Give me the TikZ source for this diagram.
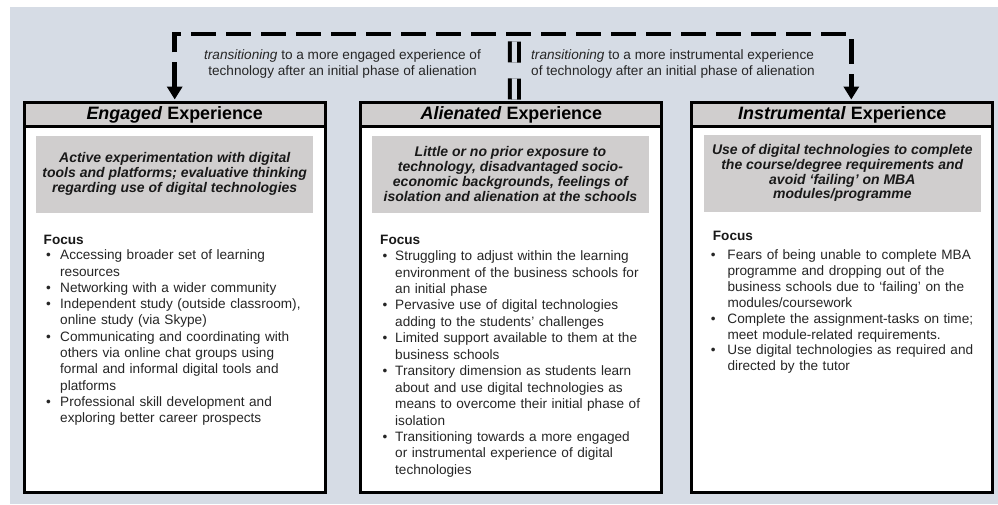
\documentclass[tikz,border=0pt]{standalone}
\usepackage{fontspec}
\setmainfont{Liberation Sans}
\usetikzlibrary{arrows.meta,positioning}

\definecolor{panel}{HTML}{D6DCE5}
\definecolor{shade}{HTML}{D0CECE}

\newlength\bulind
\newcommand\bul[1]{\hangindent=\bulind\hangafter=1\noindent\makebox[\bulind][l]{•}#1\par}

\begin{document}
\begin{tikzpicture}[x=1pt,y=-1pt,
    expbox/.style={draw,line width=3pt,fill=white,minimum width=301pt,minimum height=389.5pt,inner sep=0pt},
    headbox/.style={draw,line width=3pt,fill=shade,minimum width=301pt,minimum height=23.8pt,inner sep=0pt,
        font=\fontsize{17.9}{20}\selectfont\bfseries},
    keybox/.style={fill=shade,minimum width=277pt,minimum height=77pt,inner sep=0pt,align=center,
        text=black!90,font=\fontsize{14}{14.9}\selectfont\bfseries\itshape},
    focuslbl/.style={inner sep=0pt,text=black!90,font=\fontsize{13.6}{16.3}\selectfont\bfseries},
    focuslist/.style={inner sep=0pt,text width=285pt,align=left,text=black!85,font=\fontsize{13.6}{16.3}\selectfont},
    translbl/.style={inner sep=0pt,text=black!85,font=\fontsize{13.6}{16.5}\selectfont},
    trans/.style={line width=4.5pt,dash pattern=on 25pt off 10pt,line join=miter,
        {Triangle[length=13pt,width=15pt]}-{Triangle[length=13pt,width=15pt]}},
    link/.style={line width=4pt,double=panel,double distance=5pt,dash pattern=on 21pt off 16pt}]

\useasboundingbox (0,0) rectangle (998,504);
\fill[panel] (10,7) rectangle (998,504);

% the three experiences
\node[expbox] (eng) at (174.7,297.25) {};
\node[expbox] (ali) at (511.4,297.25) {};
\node[expbox] (ins) at (842.3,297.25) {};

\node[headbox,anchor=north] (eng-head) at (eng.north) {\textit{Engaged} Experience};
\node[headbox,anchor=north] (ali-head) at (ali.north) {\textit{Alienated} Experience};
\node[headbox,anchor=north] (ins-head) at (ins.north) {\textit{Instrumental} Experience};

\node[keybox] (eng-key) at (174.7,174) {Active experimentation with digital\\tools and platforms; evaluative thinking\\regarding use of digital technologies};
\node[keybox] (ali-key) at (510.4,174) {Little or no prior exposure to\\technology, disadvantaged socio-\\economic backgrounds, feelings of\\isolation and alienation at the schools};
\node[keybox] (ins-key) at (842.3,173) {Use of digital technologies to complete\\the course/degree requirements and\\avoid ‘failing’ on MBA\\modules/programme};

% focus lists
\node[focuslbl,anchor=base west] (eng-focus) at (43.5,244.5) {Focus};
\node[focuslist,anchor=north west] (eng-list) at (45.9,249.7) {\setlength\bulind{14.1pt}%
  \bul{Accessing broader set of learning\newline resources}
  \bul{Networking with a wider community}
  \bul{Independent study (outside classroom),\newline online study (via Skype)}
  \bul{Communicating and coordinating with\newline others via online chat groups using\newline formal and informal digital tools and\newline platforms}
  \bul{Professional skill development and\newline exploring better career prospects}};

\node[focuslbl,anchor=base west] (ali-focus) at (380,244.5) {Focus};
\node[focuslist,anchor=north west,font=\fontsize{13.6}{16.45}\selectfont] (ali-list) at (382.3,250.5) {\setlength\bulind{12.7pt}%
  \bul{Struggling to adjust within the learning\newline environment of the business schools for\newline an initial phase}
  \bul{Pervasive use of digital technologies\newline adding to the students’ challenges}
  \bul{Limited support available to them at the\newline business schools}
  \bul{Transitory dimension as students learn\newline about and use digital technologies as\newline means to overcome their initial phase of\newline isolation}
  \bul{Transitioning towards a more engaged\newline or instrumental experience of digital\newline technologies}};

\node[focuslbl,anchor=base west] (ins-focus) at (712.7,240) {Focus};
\node[focuslist,anchor=north west,font=\fontsize{13.6}{15.9}\selectfont] (ins-list) at (710.6,249.5) {\setlength\bulind{16.7pt}%
  \bul{Fears of being unable to complete MBA\newline programme and dropping out of the\newline business schools due to ‘failing’ on the\newline modules/coursework}
  \bul{Complete the assignment-tasks on time;\newline meet module-related requirements.}
  \bul{Use digital technologies as required and\newline directed by the tutor}};

% transitions out of the alienated experience
\coordinate (top) at (514.5,34);
\draw[trans] ([yshift=1.5pt]eng.north) |- (top) -| ([xshift=9pt,yshift=1.5pt]ins.north);
\draw[link] ([xshift=3pt,yshift=1.5pt]ali.north) -- (top);

\node[translbl,anchor=north,align=center] (eng-note) at (342.5,49.3) {\textit{transitioning} to a more engaged experience of\\technology after an initial phase of alienation};
\node[translbl,anchor=north west,align=left] (ins-note) at (531,49.3) {\textit{transitioning} to a more instrumental experience\\of technology after an initial phase of alienation};
\end{tikzpicture}
\end{document}
